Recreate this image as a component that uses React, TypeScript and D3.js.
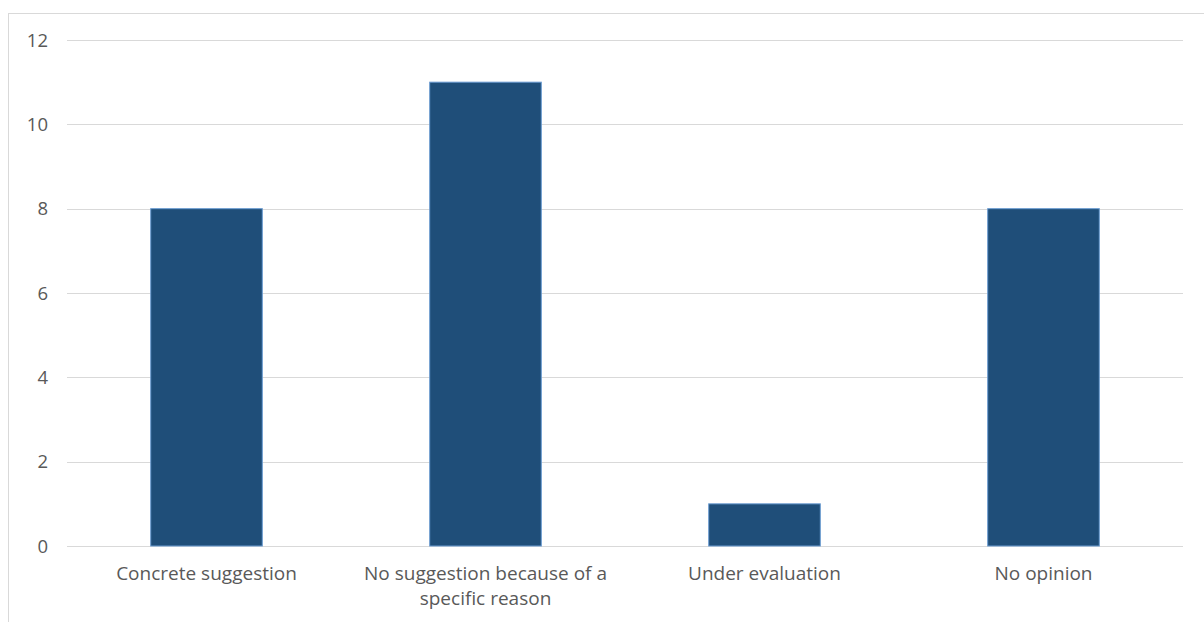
import React from "react";
import * as d3 from "d3";

const categories: string[][] = [
  ["Concrete suggestion"],
  ["No suggestion because of a", "specific reason"],
  ["Under evaluation"],
  ["No opinion"],
];
const values: number[] = [8, 11, 1, 8];
const yTicks: number[] = [0, 2, 4, 6, 8, 10, 12];

const W = 1204;
const H = 622;

export default function App() {
  const x = d3
    .scaleBand<number>()
    .domain(categories.map((_, i) => i))
    .range([67, 1183])
    .paddingInner(0.6)
    .paddingOuter(0.3);
  const y = d3.scaleLinear().domain([0, 12]).range([546, 40]);
  const font = "'Open Sans', 'Noto Sans', sans-serif";
  return (
    <svg
      width={W}
      height={H}
      style={{ position: "absolute", left: 0, top: 0, background: "#fff" }}
    >
      <rect x={8.5} y={13.5} width={1300} height={700} fill="#fff" stroke="#d9d9d9" strokeWidth={1} />
      {yTicks.map((t) => (
        <g key={t}>
          <line x1={67} x2={1183} y1={Math.round(y(t)) + 0.5} y2={Math.round(y(t)) + 0.5} stroke="#d9d9d9" strokeWidth={1} />
          <text x={48} y={y(t)} dy="0.36em" textAnchor="end" fontFamily={font} fontSize={18.5} fill="#595959">
            {t}
          </text>
        </g>
      ))}
      {values.map((v, i) => (
        <rect
          key={i}
          x={x(i)!}
          y={y(v)}
          width={x.bandwidth()}
          height={y(0) - y(v)}
          fill="#1f4e79"
          stroke="#6a9bd1"
          strokeWidth={1}
        />
      ))}
      {categories.map((lines, i) => (
        <text
          key={i}
          x={x(i)! + x.bandwidth() / 2}
          y={580}
          textAnchor="middle"
          fontFamily={font}
          fontSize={19}
          fill="#595959"
        >
          {lines.map((l, j) => (
            <tspan key={j} x={x(i)! + x.bandwidth() / 2} dy={j === 0 ? 0 : 25}>
              {l}
            </tspan>
          ))}
        </text>
      ))}
    </svg>
  );
}
